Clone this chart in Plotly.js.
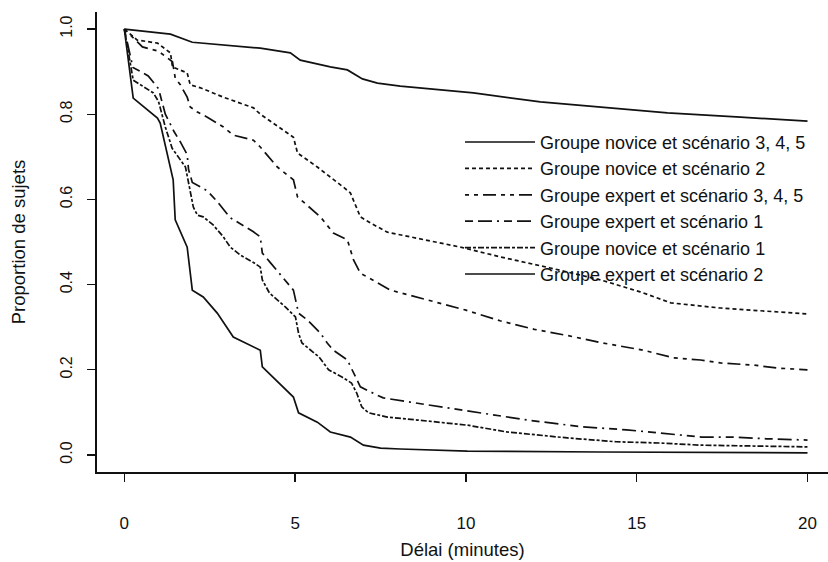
<!DOCTYPE html>
<html>
<head>
<meta charset="utf-8">
<script src="https://cdn.plot.ly/plotly-3.0.1.min.js"></script>
<style>html,body{margin:0;padding:0;background:#fff;}#chart{width:828px;height:562px;}</style>
</head>
<body>
<div id="chart"></div>
<script>
// Groupe novice et scénario 3, 4, 5
const noviceS345X = [0, 1.05, 1.35, 1.99, 2.9, 3.98, 4.86, 5.15, 6.03, 6.53, 6.97, 7.41, 8.08, 9.05, 10.22, 12.18, 14.14, 15.9, 18.04, 19.8, 20];
const noviceS345Y = [1.0, 0.991, 0.988, 0.969, 0.962, 0.955, 0.944, 0.927, 0.911, 0.904, 0.883, 0.873, 0.866, 0.859, 0.850, 0.829, 0.815, 0.803, 0.793, 0.786, 0.784];
// Groupe novice et scénario 2
const noviceS2X = [0, 0.38, 0.97, 1.35, 1.41, 1.84, 1.93, 2.23, 2.9, 3.78, 3.98, 4.95, 5.07, 5.65, 6.41, 6.62, 6.91, 7.2, 7.7, 9.05, 9.84, 11.01, 12.47, 13.94, 15.1, 16.0, 17.45, 20];
const noviceS2Y = [1.0, 0.974, 0.967, 0.944, 0.911, 0.897, 0.869, 0.862, 0.840, 0.815, 0.800, 0.746, 0.709, 0.676, 0.629, 0.615, 0.559, 0.545, 0.523, 0.500, 0.488, 0.465, 0.439, 0.411, 0.383, 0.357, 0.345, 0.331];
// Groupe expert et scénario 3, 4, 5
const expertS345X = [0, 0.53, 1.0, 1.41, 1.49, 1.64, 1.84, 1.93, 2.14, 2.43, 2.9, 3.19, 3.78, 3.98, 4.48, 4.95, 5.07, 5.74, 6.12, 6.53, 6.71, 6.91, 7.79, 8.87, 10, 11, 12, 13, 14, 15.2, 16.08, 16.87, 17.45, 18.42, 19.12, 20];
const expertS345Y = [1.0, 0.958, 0.948, 0.923, 0.885, 0.869, 0.840, 0.817, 0.805, 0.793, 0.770, 0.751, 0.739, 0.723, 0.676, 0.646, 0.606, 0.559, 0.521, 0.505, 0.458, 0.427, 0.387, 0.364, 0.340, 0.315, 0.295, 0.280, 0.263, 0.246, 0.228, 0.223, 0.216, 0.211, 0.204, 0.200];
// Groupe expert et scénario 1
const expertS1X = [0, 0.25, 0.7, 1.0, 1.2, 1.45, 1.64, 1.84, 1.88, 1.99, 2.43, 2.72, 3.1, 3.78, 3.98, 4.04, 4.28, 4.66, 4.95, 5.1, 5.36, 5.74, 5.94, 6.12, 6.53, 6.77, 6.91, 7.41, 7.58, 8.37, 9.55, 10.5, 11.8, 13.4, 14.7, 15.6, 16.9, 17.8, 18.8, 20];
const expertS1Y = [1.0, 0.91, 0.89, 0.86, 0.80, 0.76, 0.735, 0.705, 0.67, 0.64, 0.62, 0.595, 0.557, 0.524, 0.512, 0.474, 0.451, 0.415, 0.387, 0.333, 0.317, 0.286, 0.263, 0.246, 0.223, 0.183, 0.160, 0.140, 0.134, 0.124, 0.110, 0.099, 0.082, 0.066, 0.059, 0.052, 0.042, 0.042, 0.038, 0.035];
// Groupe novice et scénario 1
const noviceS1X = [0, 0.26, 0.85, 1.0, 1.2, 1.4, 1.79, 1.93, 2.02, 2.14, 2.31, 2.6, 2.9, 3.1, 3.4, 3.78, 3.98, 4.04, 4.25, 4.72, 5.01, 5.1, 5.2, 5.7, 5.98, 6.37, 6.65, 6.8, 6.95, 7.15, 7.7, 8.58, 10.04, 11.2, 12.97, 14.4, 15.7, 16.87, 20];
const noviceS1Y = [1.0, 0.88, 0.85, 0.83, 0.77, 0.72, 0.676, 0.622, 0.582, 0.563, 0.559, 0.540, 0.512, 0.488, 0.469, 0.452, 0.441, 0.411, 0.380, 0.347, 0.324, 0.286, 0.263, 0.230, 0.200, 0.183, 0.169, 0.146, 0.113, 0.099, 0.089, 0.082, 0.070, 0.054, 0.040, 0.031, 0.028, 0.023, 0.019];
// Groupe expert et scénario 2
const expertS2X = [0, 0.26, 0.97, 1.05, 1.43, 1.49, 1.84, 1.99, 2.31, 2.72, 3.19, 3.98, 4.04, 4.95, 5.1, 5.65, 6.03, 6.62, 7.0, 7.5, 8.08, 10.04, 13.94, 20];
const expertS2Y = [1.0, 0.838, 0.791, 0.779, 0.646, 0.552, 0.488, 0.387, 0.371, 0.333, 0.277, 0.246, 0.207, 0.136, 0.099, 0.077, 0.054, 0.042, 0.023, 0.016, 0.014, 0.009, 0.007, 0.005];

const seriesNames = [
  "Groupe novice et scénario 3, 4, 5",
  "Groupe novice et scénario 2",
  "Groupe expert et scénario 3, 4, 5",
  "Groupe expert et scénario 1",
  "Groupe novice et scénario 1",
  "Groupe expert et scénario 2"
];
const xTicks = [0, 5, 10, 15, 20];
const yTicks = [0, 0.2, 0.4, 0.6, 0.8, 1.0];

const xs = [noviceS345X, noviceS2X, expertS345X, expertS1X, noviceS1X, expertS2X];
const ys = [noviceS345Y, noviceS2Y, expertS345Y, expertS1Y, noviceS1Y, expertS2Y];
const dashes = ["solid", "4px,3px", "4px,5px,4px,5px,13px,5px", "8px,5px,14px,5px,2px,5px", "6px,2px,3px,2px", "solid"];

const traces = seriesNames.map((n, i) => ({
  x: xs[i], y: ys[i], name: n, type: "scatter", mode: "lines",
  line: {color: "#111", width: 1.7, dash: dashes[i]}
}));

const font = {family: "Liberation Sans, Arial, sans-serif", color: "#111"};
const layout = {
  width: 828, height: 562,
  margin: {l: 97, r: 0, t: 12, b: 90},
  paper_bgcolor: "#fff", plot_bgcolor: "#fff",
  font: Object.assign({size: 16}, font),
  showlegend: true,
  legend: {x: 0.4966, xanchor: "left", y: 0.757, yanchor: "top", bgcolor: "rgba(0,0,0,0)",
           font: Object.assign({size: 18}, font), itemwidth: 70},
  xaxis: {range: [-0.8, 20.6], tickvals: xTicks, ticks: "outside", ticklen: 8, tickwidth: 1.3, tickcolor: "#111",
          showline: true, linecolor: "#111", linewidth: 1.6, showgrid: false, zeroline: false,
          ticklabelstandoff: 27, tickfont: Object.assign({size: 17}, font),
          title: {text: "Délai (minutes)", font: Object.assign({size: 18.5}, font), standoff: 11}},
  yaxis: {range: [-0.04, 1.04], tickvals: yTicks, tickformat: ".1f", tickangle: -90, ticks: "outside", ticklen: 8, tickwidth: 1.3, tickcolor: "#111",
          showline: true, linecolor: "#111", linewidth: 1.6, showgrid: false, zeroline: false,
          ticklabelstandoff: 9, tickfont: Object.assign({size: 16}, font),
          title: {text: "Proportion de sujets", font: Object.assign({size: 18.5}, font), standoff: 27}}
};
Plotly.newPlot("chart", traces, layout, {displayModeBar: false, staticPlot: true});
</script>
</body>
</html>
